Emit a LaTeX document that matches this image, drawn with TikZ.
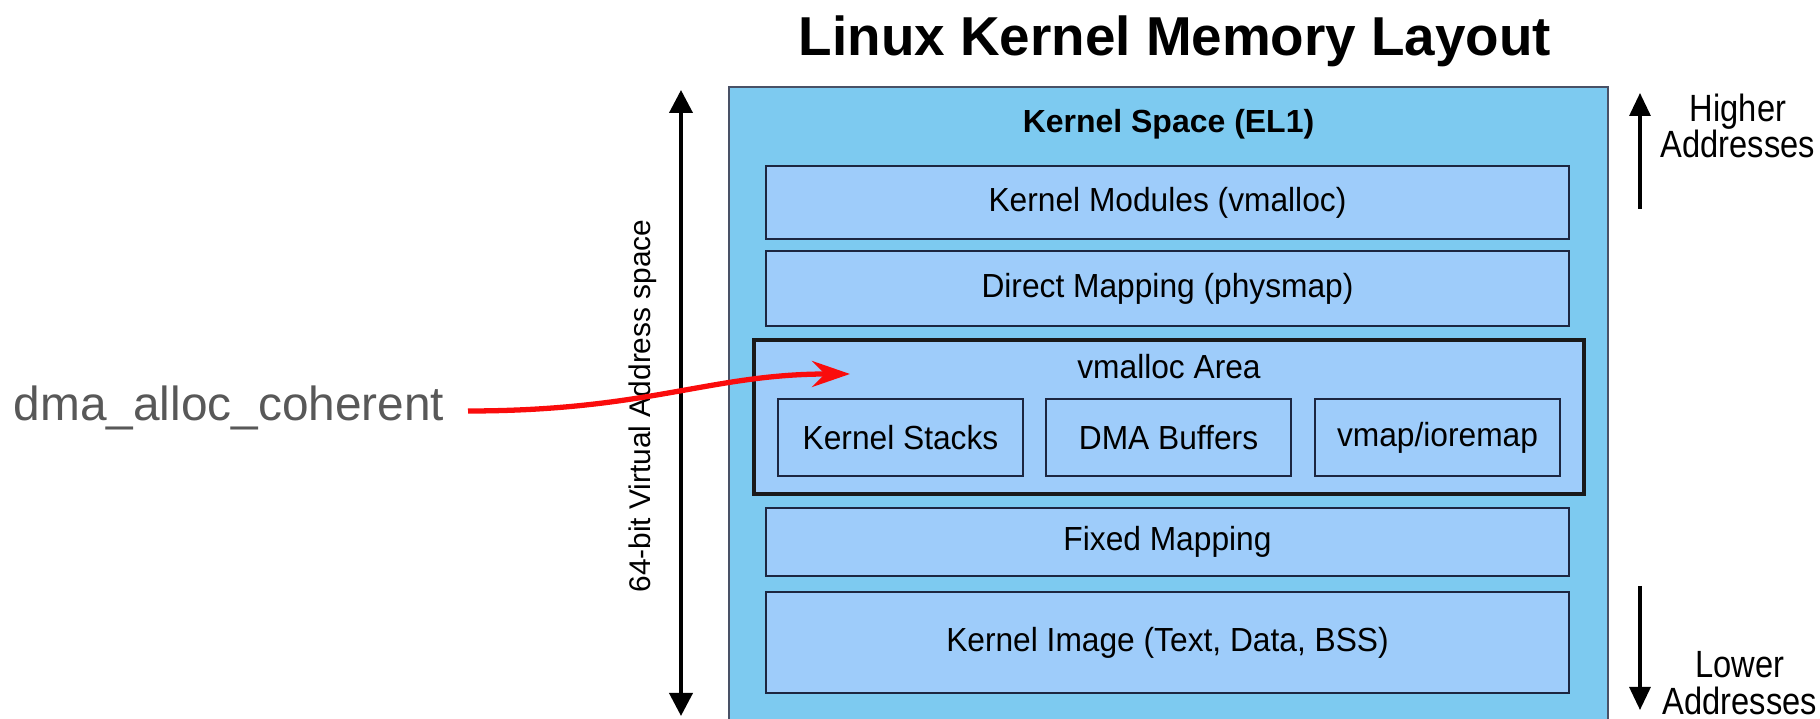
\documentclass[tikz,border=0pt]{standalone}
\usepackage{fontspec}
\setmainfont{Liberation Sans}
\newfontfamily\boxfont[FakeStretch=0.95]{Liberation Sans}
\newfontfamily\sidefont[FakeStretch=0.86]{Liberation Sans}
\usetikzlibrary{arrows.meta,positioning}
\definecolor{spaceblue}{RGB}{125,202,240}
\definecolor{regionblue}{RGB}{158,204,250}
\definecolor{edgenavy}{RGB}{28,38,64}
\definecolor{callred}{RGB}{250,12,12}
\definecolor{callgrey}{RGB}{88,88,88}

\begin{document}
\begin{tikzpicture}[
      space/.style={draw=edgenavy!80,line width=.5pt,fill=spaceblue,
        minimum width=8.79cm,minimum height=7cm,inner sep=0pt},
      region/.style={draw=edgenavy,line width=.7pt,fill=regionblue,
        minimum width=8.03cm,inner sep=0pt,font=\boxfont\fontsize{9.5}{11}\selectfont},
      area/.style={draw=black!90,line width=1.3pt,fill=regionblue,
        minimum width=8.30cm,minimum height=1.54cm,inner sep=0pt},
      slot/.style={region,minimum width=2.45cm,minimum height=.77cm},
      side/.style={align=center,inner sep=0pt,font=\sidefont\fontsize{10.8}{10.4}\selectfont},
      span/.style={line width=1.1pt,
        {Triangle[length=2.3mm,width=2.3mm]}-{Triangle[length=2.3mm,width=2.3mm]}},
      dir/.style={line width=.9pt,-{Triangle[length=2.3mm,width=2.1mm]}},
      call/.style={callred,line width=1.5pt,-{Stealth[length=3.8mm,width=2.6mm,inset=1.3mm]}}
    ]
    \clip (0,0) rectangle (18.2,7.19);

    \node[anchor=base,font=\bfseries\fontsize{15.6}{18}\selectfont] (title) at (11.75,6.63)
      {Linux Kernel Memory Layout};

    \node[space] (kspace) at (11.685,2.82) {};
    \node[anchor=base,font=\bfseries\fontsize{9.1}{11}\selectfont] (kstitle) at (11.685,5.86)
      {Kernel Space (EL1)};

    \node[region,minimum height=.73cm] (modules) at (11.675,5.165) {Kernel Modules (vmalloc)};
    \node[region,minimum height=.75cm] (physmap) at (11.675,4.305) {Direct Mapping (physmap)};
    \node[area] (vmarea) at (11.69,3.02) {};
    \node[font=\boxfont\fontsize{9.5}{11}\selectfont] (vmlabel) at (11.69,3.52) {vmalloc Area};
    \node[slot] (stacks) at (9.005,2.815) {Kernel Stacks};
    \node[slot] (dmabuf) at (11.685,2.815) {DMA Buffers};
    \node[slot] (vmap) at (14.375,2.815) {vmap/ioremap};
    \node[region,minimum height=.68cm] (fixmap) at (11.675,1.77) {Fixed Mapping};
    \node[region,minimum height=1.01cm] (kimage) at (11.675,.765) {Kernel Image (Text, Data, BSS)};

    \coordinate (vtop) at (6.81,6.29);
    \coordinate (vbot) at (6.81,.03);
    \draw[span] (vbot)--(vtop);
    \node[rotate=90,font=\fontsize{8.5}{10}\selectfont] (vas) at (6.43,3.13)
      {64-bit Virtual Address space};

    \coordinate (hifrom) at (16.40,5.10);
    \coordinate (hito) at (16.40,6.26);
    \draw[dir] (hifrom)--(hito);
    \node[side] (higher) at (17.38,5.93) {Higher\\Addresses};
    \coordinate (lofrom) at (16.40,1.33);
    \coordinate (loto) at (16.40,.09);
    \draw[dir] (lofrom)--(loto);
    \node[side] (lower) at (17.40,.36) {Lower\\Addresses};

    \node[anchor=east,inner sep=0pt,text=callgrey,font=\fontsize{13.6}{16}\selectfont] (dma)
      at (4.45,3.11) {dma\_alloc\_coherent};
    \coordinate (tgt) at (8.50,3.45);
    \draw[call] ([xshift=2.3mm,yshift=-.3mm]dma.east) .. controls +(1.8,0) and +(-1.4,0) .. (tgt);
  \end{tikzpicture}
\end{document}
